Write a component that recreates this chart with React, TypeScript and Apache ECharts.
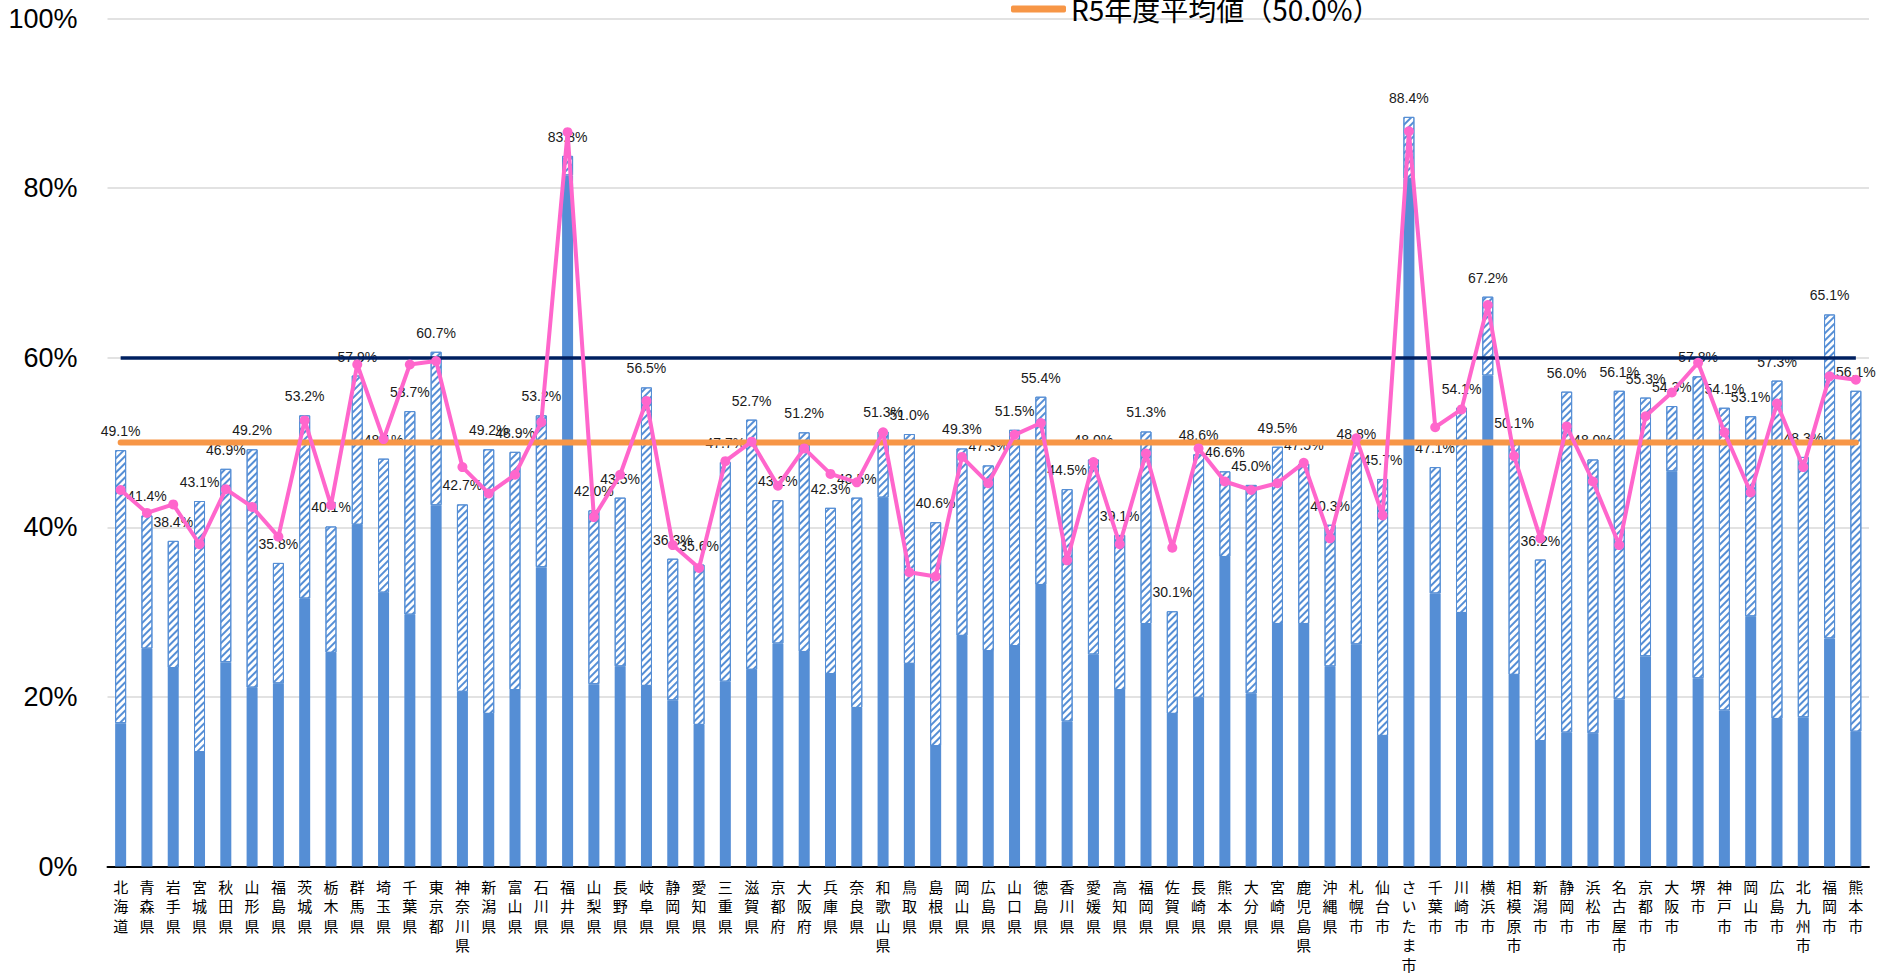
import { useEffect, useRef } from 'react';
import * as echarts from 'echarts';

const categories = [
  '北海道', '青森県', '岩手県', '宮城県', '秋田県', '山形県', '福島県', '茨城県', '栃木県', '群馬県',
  '埼玉県', '千葉県', '東京都', '神奈川県', '新潟県', '富山県', '石川県', '福井県', '山梨県', '長野県',
  '岐阜県', '静岡県', '愛知県', '三重県', '滋賀県', '京都府', '大阪府', '兵庫県', '奈良県', '和歌山県',
  '鳥取県', '島根県', '岡山県', '広島県', '山口県', '徳島県', '香川県', '愛媛県', '高知県', '福岡県',
  '佐賀県', '長崎県', '熊本県', '大分県', '宮崎県', '鹿児島県', '沖縄県',
  '札幌市', '仙台市', 'さいたま市', '千葉市', '川崎市', '横浜市', '相模原市', '新潟市', '静岡市', '浜松市',
  '名古屋市', '京都市', '大阪市', '堺市', '神戸市', '岡山市', '広島市', '北九州市', '福岡市', '熊本市',
];

// total rate (label values, top of hatched bar)
const totalRates = [
  49.1, 41.4, 38.4, 43.1, 46.9, 49.2, 35.8, 53.2, 40.1, 57.9,
  48.1, 53.7, 60.7, 42.7, 49.2, 48.9, 53.2, 83.8, 42.0, 43.5,
  56.5, 36.3, 35.6, 47.7, 52.7, 43.2, 51.2, 42.3, 43.5, 51.3,
  51.0, 40.6, 49.3, 47.3, 51.5, 55.4, 44.5, 48.0, 39.1, 51.3,
  30.1, 48.6, 46.6, 45.0, 49.5, 47.5, 40.3,
  48.8, 45.7, 88.4, 47.1, 54.1, 67.2, 50.1, 36.2, 56.0, 48.0,
  56.1, 55.3, 54.3, 57.8, 54.1, 53.1, 57.3, 48.3, 65.1, 56.1,
];

// solid (lower) part of each bar
const solidRates = [
  16.9, 25.7, 23.4, 13.5, 24.1, 21.1, 21.6, 31.6, 25.2, 40.3,
  32.3, 29.7, 42.6, 20.6, 18.0, 20.8, 35.3, 81.5, 21.5, 23.6,
  21.3, 19.6, 16.7, 21.8, 23.2, 26.3, 25.3, 22.7, 18.7, 43.5,
  23.9, 14.2, 27.2, 25.4, 26.0, 33.2, 17.1, 25.0, 20.8, 28.6,
  18.0, 19.9, 36.5, 20.4, 28.6, 28.6, 23.6,
  26.2, 15.4, 81.1, 32.2, 29.9, 57.9, 22.6, 14.8, 15.8, 15.7,
  19.7, 24.8, 46.6, 22.2, 18.4, 29.5, 17.4, 17.6, 26.9, 15.9,
];

// pink line values
const lineRates = [
  44.4, 41.7, 42.7, 38.0, 44.5, 42.4, 38.9, 52.6, 42.6, 59.2,
  50.4, 59.2, 59.6, 47.1, 44.0, 46.2, 52.4, 86.6, 41.2, 46.2,
  54.9, 37.9, 35.2, 47.8, 50.1, 44.9, 49.3, 46.3, 45.3, 51.2,
  34.7, 34.2, 48.3, 45.2, 50.9, 52.3, 36.1, 47.7, 38.0, 48.7,
  37.6, 49.3, 45.4, 44.4, 45.2, 47.6, 38.7,
  50.5, 41.4, 86.7, 51.8, 53.9, 66.2, 48.4, 38.7, 51.9, 45.4,
  37.9, 53.1, 55.9, 59.4, 51.2, 44.1, 54.6, 47.1, 57.8, 57.4,
];

const averageName = 'R5年度平均値（50.0%）';
const averageValue = 50.0;
const targetValue = 60;
const yMin = 0;
const yMax = 100;
const yInterval = 20;

export default function App() {
  const ref = useRef<HTMLDivElement>(null);

  useEffect(() => {
    if (!ref.current) return;
    const chart = echarts.init(ref.current, null, { renderer: 'svg' });
    const hatched = totalRates.map((t, i) => Math.round((t - solidRates[i]) * 10) / 10);
    const averageLine = categories.map(() => averageValue);

    chart.setOption({
      animation: false,
      backgroundColor: '#ffffff',
      grid: { left: 107.5, right: 19, top: 18.5, bottom: 95.5, containLabel: false },
      legend: {
        top: -10,
        left: 1006,
        itemWidth: 55,
        itemHeight: 7,
        itemGap: 10,
        textStyle: { fontSize: 28, fontFamily: "'Noto Sans CJK JP', sans-serif", color: '#000' },
        data: [{ name: averageName, icon: 'roundRect', itemStyle: { color: '#F79646' } }],
      },
      xAxis: {
        type: 'category',
        data: categories,
        axisTick: { show: false },
        axisLine: { lineStyle: { color: '#000', width: 2 } },
        axisLabel: {
          interval: 0,
          margin: 10,
          fontSize: 15,
          lineHeight: 19.5,
          color: '#000',
          fontFamily: "'Noto Sans CJK JP', sans-serif",
          formatter: (v: string) => v.split('').join('\n'),
        },
      },
      yAxis: {
        type: 'value',
        min: yMin,
        max: yMax,
        interval: yInterval,
        axisLine: { show: false },
        axisTick: { show: false },
        splitLine: { lineStyle: { color: '#d9d9d9', width: 1.5 } },
        axisLabel: {
          formatter: '{value}%',
          fontSize: 27,
          margin: 30,
          color: '#000',
          fontFamily: "'Liberation Sans', sans-serif",
        },
      },
      series: [
        {
          name: '実績（下）',
          type: 'bar',
          stack: 'rate',
          barWidth: 11,
          data: solidRates,
          itemStyle: { color: '#558ED5' },
          z: 2,
        },
        {
          name: '実績（上）',
          type: 'bar',
          stack: 'rate',
          barWidth: 11,
          data: hatched,
          itemStyle: {
            color: '#ffffff',
            borderColor: '#558ED5',
            borderWidth: 1,
            decal: {
              symbol: 'rect',
              symbolSize: 1,
              color: '#558ED5',
              backgroundColor: '#ffffff',
              dashArrayX: [1, 0],
              dashArrayY: [1.5, 2.5],
              rotation: -Math.PI / 4,
            },
          },
          label: {
            show: true,
            position: 'top',
            distance: 12,
            fontSize: 14,
            color: '#1a1a1a',
            fontFamily: "'Liberation Sans', sans-serif",
            formatter: (p: any) => totalRates[p.dataIndex].toFixed(1) + '%',
          },
          z: 2,
        },
        {
          name: '目標',
          type: 'line',
          data: [],
          markLine: {
            silent: true,
            symbol: ['none', 'none'],
            label: { show: false },
            lineStyle: { color: '#002060', width: 3.5, type: 'solid' },
            data: [[
              { coord: [categories[0], targetValue] },
              { coord: [categories[categories.length - 1], targetValue] },
            ]],
          },
          z: 3,
        },
        {
          name: averageName,
          type: 'line',
          data: averageLine,
          showSymbol: false,
          symbol: 'none',
          lineStyle: { color: '#F79646', width: 6, cap: 'round' },
          itemStyle: { color: '#F79646' },
          z: 4,
        },
        {
          name: '推移',
          type: 'line',
          data: lineRates,
          symbol: 'circle',
          symbolSize: 10,
          lineStyle: { color: '#FF66CC', width: 4 },
          itemStyle: { color: '#FF66CC' },
          z: 5,
        },
      ],
    });

    return () => chart.dispose();
  }, []);

  return (
    <div
      ref={ref}
      style={{ position: 'absolute', left: 0, top: 0, width: 1888, height: 974 }}
    />
  );
}
